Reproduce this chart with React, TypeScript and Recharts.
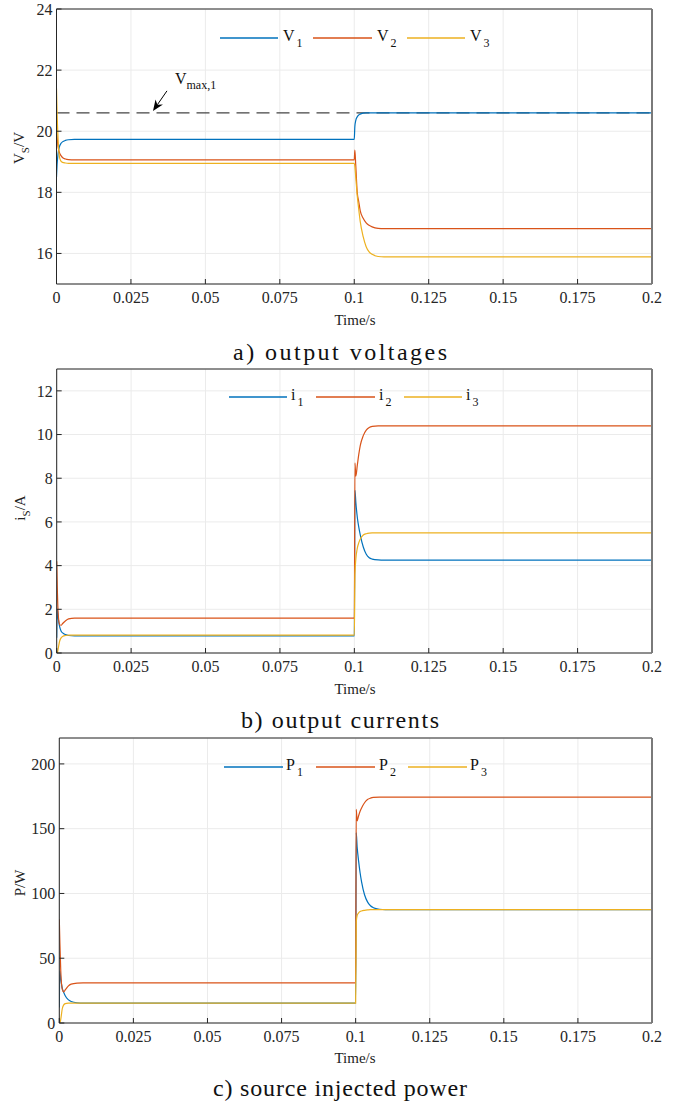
import React from 'react';
import { LineChart, Line, XAxis, YAxis, CartesianGrid, ReferenceLine } from 'recharts';

// MATLAB default colour order
const BLUE = '#0072BD';
const RED = '#D95319';
const YELLOW = '#EDB120';
const colors = [BLUE, RED, YELLOW];

const timeTicks = [0, 0.025, 0.05, 0.075, 0.1, 0.125, 0.15, 0.175, 0.2];

// a) output voltages
const timeV = [0, 0.0002, 0.0005, 0.001, 0.0015, 0.002, 0.003, 0.004, 0.006, 0.008, 0.1, 0.1002, 0.1005, 0.101, 0.1015, 0.102, 0.103, 0.104, 0.105, 0.106, 0.108, 0.11, 0.2];
const v1 = [18.5, 18.9, 19.25, 19.5, 19.6, 19.65, 19.7, 19.72, 19.73, 19.73, 19.73, 20.15, 20.35, 20.47, 20.53, 20.56, 20.59, 20.6, 20.6, 20.6, 20.6, 20.6, 20.6];
const v2 = [20.0, 19.8, 19.5, 19.3, 19.2, 19.14, 19.09, 19.07, 19.06, 19.06, 19.06, 19.38, 18.9, 18.0, 17.7, 17.4, 17.15, 17.0, 16.92, 16.87, 16.82, 16.81, 16.81];
const v3 = [21.4, 20.6, 19.8, 19.15, 19.02, 18.98, 18.96, 18.95, 18.95, 18.95, 18.95, 18.85, 18.5, 17.9, 17.45, 17.05, 16.55, 16.22, 16.05, 15.97, 15.9, 15.89, 15.89];
const vTicks = [16, 18, 20, 22, 24];
const vDomain = [15, 24];
const vMax1 = 20.6;
const vMaxArrow = [{ x: 0.0371, y: 21.32 }, { x: 0.0324, y: 20.66 }];

// b) output currents
const timeI = [0, 0.0002, 0.0005, 0.001, 0.0015, 0.002, 0.003, 0.004, 0.006, 0.008, 0.1, 0.1002, 0.1005, 0.101, 0.1015, 0.102, 0.103, 0.104, 0.105, 0.106, 0.108, 0.11, 0.2];
const i1 = [0.7, 2.0, 1.6, 1.2, 1.0, 0.92, 0.84, 0.8, 0.78, 0.78, 0.78, 7.45, 6.9, 6.2, 5.75, 5.4, 4.85, 4.52, 4.36, 4.3, 4.26, 4.25, 4.25];
const i2 = [4.2, 3.0, 1.8, 1.3, 1.27, 1.35, 1.48, 1.56, 1.6, 1.6, 1.6, 8.7, 8.1, 8.6, 9.1, 9.5, 9.95, 10.2, 10.32, 10.37, 10.4, 10.4, 10.4];
const i3 = [0, 0, 0.2, 0.55, 0.7, 0.76, 0.8, 0.82, 0.82, 0.82, 0.82, 3.6, 4.3, 4.8, 5.05, 5.22, 5.4, 5.46, 5.49, 5.5, 5.5, 5.5, 5.5];
const iTicks = [0, 2, 4, 6, 8, 10, 12];
const iDomain = [0, 13];

// c) source injected power
const timeP = [0, 0.0002, 0.0005, 0.001, 0.0015, 0.002, 0.003, 0.004, 0.006, 0.008, 0.1, 0.1002, 0.1005, 0.101, 0.1015, 0.102, 0.103, 0.104, 0.105, 0.106, 0.108, 0.11, 0.2];
const p1 = [12, 40, 34, 27, 23.5, 21, 18, 16.6, 15.6, 15.4, 15.4, 147, 136, 125, 116, 109, 99, 93.5, 90.5, 89, 87.8, 87.5, 87.5];
const p2 = [80, 62, 40, 26, 24, 25.5, 28.5, 30, 30.8, 31, 31, 165, 156, 160, 163.5, 166, 170, 172.5, 173.6, 174.1, 174.3, 174.3, 174.3];
const p3 = [0, 0, 3, 11, 14, 15, 15.4, 15.4, 15.4, 15.4, 15.4, 78, 83, 85, 86, 86.5, 87, 87.3, 87.5, 87.5, 87.5, 87.5, 87.5];
const pTicks = [0, 50, 100, 150, 200];
const pDomain = [0, 220];

const build = (t: number[], a: number[], b: number[], c: number[]) =>
  t.map((x, k) => ({ t: x, s1: a[k], s2: b[k], s3: c[k] }));

const rowsV = build(timeV, v1, v2, v3);
const rowsI = build(timeI, i1, i2, i3);
const rowsP = build(timeP, p1, p2, p3);

const serif = "'Liberation Serif', 'Times New Roman', Times, serif";
const tickFont = { fontFamily: serif, fontSize: 16, fill: '#262626' };
const AXIS = '#262626';

function ArrowShape(p: any) {
  const { x1, y1, x2, y2 } = p;
  const ang = Math.atan2(y2 - y1, x2 - x1);
  const len = 11;
  const half = 4.5;
  const bx = x2 - len * Math.cos(ang);
  const by = y2 - len * Math.sin(ang);
  const nx = x2 - len * 0.7 * Math.cos(ang);
  const ny = y2 - len * 0.7 * Math.sin(ang);
  const px = -Math.sin(ang) * half;
  const py = Math.cos(ang) * half;
  return (
    <g>
      <line x1={x1} y1={y1} x2={nx} y2={ny} stroke="#000" strokeWidth={1} />
      <polygon points={`${x2},${y2} ${bx + px},${by + py} ${nx},${ny} ${bx - px},${by - py}`} fill="#000" />
      <text x={x1 + 8} y={y1 - 7} style={{ fontFamily: serif }} fontSize={16} fill="#111">
        V<tspan dy={5} fontSize={12}>max,1</tspan>
      </text>
    </g>
  );
}

interface PanelProps {
  top: number;
  height: number;
  yWidth: number;
  rows: any[];
  names: string[];
  yDomain: number[];
  yTicks: number[];
  children?: React.ReactNode;
}

function Panel({ top, height, yWidth, rows, names, yDomain, yTicks, children }: PanelProps) {
  return (
    <div style={{ position: 'absolute', left: 0, top, fontFamily: serif }}>
      <LineChart width={681} height={height} data={rows} margin={{ top: 8, right: 28, left: 0, bottom: 0 }} style={{ fontFamily: serif }}>
        <CartesianGrid xAxisId="b" yAxisId="l" stroke="#ebebeb" strokeWidth={1} />
        <XAxis
          xAxisId="b"
          dataKey="t"
          type="number"
          domain={[0, 0.2]}
          ticks={timeTicks}
          interval={0}
          allowDataOverflow
          height={36}
          tickSize={-5}
          tickMargin={13}
          tick={tickFont}
          stroke={AXIS}
        />
        <XAxis
          xAxisId="t"
          orientation="top"
          dataKey="t"
          type="number"
          domain={[0, 0.2]}
          ticks={timeTicks}
          interval={0}
          allowDataOverflow
          height={1}
          tickSize={-5}
          tick={false}
          stroke={AXIS}
        />
        <YAxis
          yAxisId="l"
          type="number"
          domain={yDomain}
          ticks={yTicks}
          interval={0}
          allowDataOverflow
          width={yWidth}
          tickSize={-5}
          tickMargin={9}
          tick={tickFont}
          stroke={AXIS}
        />
        <YAxis
          yAxisId="r"
          orientation="right"
          type="number"
          domain={yDomain}
          ticks={yTicks}
          interval={0}
          allowDataOverflow
          width={1}
          tickSize={-5}
          tick={false}
          stroke="#6e6e6e"
          axisLine={{ stroke: '#7a7a7a', strokeWidth: 2 }}
        />
        {children}
        {['s1', 's2', 's3'].map((k, n) => (
          <Line
            key={k}
            xAxisId="b"
            yAxisId="l"
            dataKey={k}
            name={names[n]}
            type="monotone"
            stroke={colors[n]}
            strokeWidth={1.2}
            dot={false}
            isAnimationActive={false}
          />
        ))}
      </LineChart>
    </div>
  );
}

function LegendRow({ y, lines, texts, sym }: { y: number; lines: number[][]; texts: number[]; sym: string }) {
  return (
    <g>
      {lines.map((l, n) => (
        <g key={n}>
          <line x1={l[0]} x2={l[1]} y1={y} y2={y} stroke={colors[n]} strokeWidth={1.4} />
          <text x={texts[n]} y={y + 3} fontSize={16} fill="#111">
            {sym}
            <tspan dx={2} dy={6} fontSize={12}>{n + 1}</tspan>
          </text>
        </g>
      ))}
    </g>
  );
}

function Caption({ y, w, children }: { y: number; w: number; children: string }) {
  return (
    <text x={340} y={y} textAnchor="middle" fontSize={24} fill="#111" textLength={w} lengthAdjust="spacing">
      {children}
    </text>
  );
}

export default function App() {
  return (
    <div style={{ position: 'absolute', left: 0, top: 0, width: 681, height: 1102, background: '#fff', fontFamily: serif }}>
      <Panel top={0} height={320} yWidth={56.5} rows={rowsV} names={['V1', 'V2', 'V3']} yDomain={vDomain} yTicks={vTicks}>
        <ReferenceLine
          xAxisId="b"
          yAxisId="l"
          y={vMax1}
          stroke="#444"
          strokeWidth={1.3}
          strokeDasharray="13 7"
        />
        <ReferenceLine xAxisId="b" yAxisId="l" segment={vMaxArrow} shape={ArrowShape} />
      </Panel>
      <Panel top={360} height={329} yWidth={56.7} rows={rowsI} names={['i1', 'i2', 'i3']} yDomain={iDomain} yTicks={iTicks} />
      <Panel top={729} height={330} yWidth={59.3} rows={rowsP} names={['P1', 'P2', 'P3']} yDomain={pDomain} yTicks={pTicks} />

      <svg width={681} height={1102} style={{ position: 'absolute', left: 0, top: 0, pointerEvents: 'none', fontFamily: serif }}>
        <LegendRow y={38} lines={[[220, 278], [313, 372], [407, 465]]} texts={[283, 377, 470]} sym="V" />
        <LegendRow y={397} lines={[[229, 287], [316, 375], [404, 462]]} texts={[291, 379, 466]} sym="i" />
        <LegendRow y={767} lines={[[224, 283], [316, 375], [408, 467]]} texts={[286, 379, 470]} sym="P" />

        <text transform="translate(23.5,148) rotate(-90)" textAnchor="middle" fontSize={15} fill="#222">
          V<tspan dy={5} fontSize={11}>S</tspan>
          <tspan dy={-5}>/V</tspan>
        </text>
        <text transform="translate(25,508) rotate(-90)" textAnchor="middle" fontSize={15} fill="#222">
          i<tspan dy={5} fontSize={11}>S</tspan>
          <tspan dy={-5}>/A</tspan>
        </text>
        <text transform="translate(25,883) rotate(-90)" textAnchor="middle" fontSize={15} fill="#222">
          P/W
        </text>

        <text x={355} y={325} textAnchor="middle" fontSize={15} fill="#222">Time/s</text>
        <text x={355} y={694} textAnchor="middle" fontSize={15} fill="#222">Time/s</text>
        <text x={355} y={1063} textAnchor="middle" fontSize={15} fill="#222">Time/s</text>

        <Caption y={360} w={214}>a) output voltages</Caption>
        <Caption y={728} w={198}>b) output currents</Caption>
        <Caption y={1096} w={254}>c) source injected power</Caption>
      </svg>
    </div>
  );
}
